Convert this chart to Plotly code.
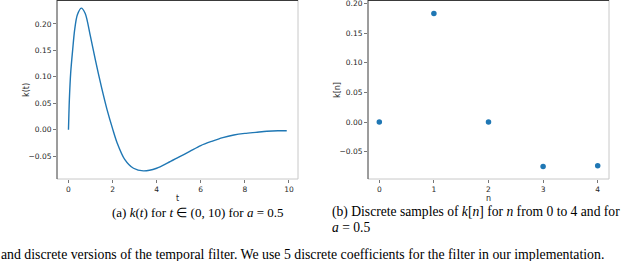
import plotly.graph_objects as go

# Continuous filter k(t)
t_vals = [0, 0.02, 0.04, 0.1, 0.19, 0.28, 0.4, 0.58, 0.76, 0.99, 1.22, 1.5, 1.75, 2.0, 2.2,
          2.55, 2.95, 3.4, 4.0, 4.5, 5.0, 5.5, 6.0, 6.5, 7.0, 7.5, 8.0, 8.5, 9.0, 9.5, 9.9]
k_vals = [0, 0.030, 0.056, 0.107, 0.151, 0.189, 0.217, 0.230, 0.220, 0.178, 0.132, 0.080,
          0.038, 0.002, -0.024, -0.056, -0.073, -0.078, -0.073, -0.063, -0.052, -0.041,
          -0.030, -0.022, -0.015, -0.010, -0.007, -0.005, -0.003, -0.002, -0.002]

# Discrete samples k[n]
n_vals = [0, 1, 2, 3, 4]
kn_vals = [0.0, 0.183, 0.0, -0.075, -0.0735]

y_ticks = [-0.05, 0.00, 0.05, 0.10, 0.15, 0.20]
t_ticks = [0, 2, 4, 6, 8, 10]
n_ticks = [0, 1, 2, 3, 4]

caption_a = "(a) <i>k</i>(<i>t</i>) for <i>t</i> ∈ (0, 10) for <i>a</i> = 0.5"
caption_b1 = "(b) Discrete samples of <i>k</i>[<i>n</i>] for <i>n</i> from 0 to 4 and for"
caption_b2 = "<i>a</i> = 0.5"
caption_main = "and discrete versions of the temporal filter. We use 5 discrete coefficients for the filter in our implementation."

W, H = 640, 261
BLUE = "#1f77b4"

def px_x(p):
    return p / W

def px_y(p):
    return 1 - p / H

fig = go.Figure()
fig.add_trace(go.Scatter(x=t_vals, y=k_vals, mode="lines",
                         line=dict(color=BLUE, width=1.4, shape="spline", smoothing=0.8),
                         xaxis="x", yaxis="y", showlegend=False))
fig.add_trace(go.Scatter(x=n_vals, y=kn_vals, mode="markers",
                         marker=dict(color=BLUE, size=5.5),
                         xaxis="x2", yaxis="y2", showlegend=False))

tickfont = dict(family="DejaVu Sans", size=7.5, color="#262626")
common_ax = dict(showgrid=False, zeroline=False, showline=False, ticks="outside",
                 ticklen=3, tickwidth=0.8, tickcolor="#555", tickfont=tickfont,
                 automargin=False, ticklabeloverflow="allow")

dom_y = [px_y(179), 1]
fig.update_layout(
    width=W, height=H, autosize=False,
    margin=dict(l=0, r=0, t=0, b=0, pad=0, autoexpand=False),
    paper_bgcolor="white", plot_bgcolor="white",
    xaxis=dict(domain=[px_x(57), px_x(298)], range=[-0.52, 10.41], tickvals=t_ticks,
               ticktext=[str(v) for v in t_ticks], anchor="y", **common_ax),
    yaxis=dict(domain=dom_y, range=[-0.0933, 0.2454], tickvals=y_ticks,
               tickformat=".2f", anchor="x", **common_ax),
    xaxis2=dict(domain=[px_x(368), px_x(609)], range=[-0.207, 4.207], tickvals=n_ticks,
                anchor="y2", **common_ax),
    yaxis2=dict(domain=dom_y, range=[-0.096, 0.2056], tickvals=y_ticks,
                tickformat=".2f", anchor="x2", **common_ax),
)

# spines: left/top dark, bottom/right light
for xr, yr in [("x domain", "y domain"), ("x2 domain", "y2 domain")]:
    fig.add_shape(type="line", xref=xr, yref=yr, x0=0, x1=1, y0=0, y1=0,
                  line=dict(color="#c8c8c8", width=1))
    fig.add_shape(type="line", xref=xr, yref=yr, x0=1, x1=1, y0=0, y1=1,
                  line=dict(color="#c8c8c8", width=1))
    fig.add_shape(type="line", xref=xr, yref=yr, x0=0, x1=0, y0=0, y1=1,
                  line=dict(color="#3a3a3a", width=1))
    fig.add_shape(type="line", xref=xr, yref=yr, x0=0, x1=1, y0=1, y1=1,
                  line=dict(color="#3a3a3a", width=2))

labfont = dict(family="DejaVu Sans", size=8, color="#262626")
anns = [
    dict(text="t", x=px_x(177.5), y=px_y(198.5), font=labfont),
    dict(text="n", x=px_x(488.5), y=px_y(198.5), font=labfont),
    dict(text="k(t)", x=px_x(26), y=px_y(90), font=labfont, textangle=-90),
    dict(text="k[n]", x=px_x(337), y=px_y(90), font=labfont, textangle=-90),
]
serif = dict(family="Liberation Serif", size=13, color="black")
serif_b = dict(family="Liberation Serif", size=13.6, color="black")
serif_main = dict(family="Liberation Serif", size=13.8, color="black")
anns += [
    dict(text=caption_a, x=px_x(197), y=px_y(212), xanchor="center", font=serif),
    dict(text=caption_b1, x=px_x(330), y=px_y(212), xanchor="left", font=serif_b),
    dict(text=caption_b2, x=px_x(330), y=px_y(227), xanchor="left", font=serif_b),
    dict(text=caption_main, x=px_x(-1), y=px_y(254), xanchor="left", font=serif_main),
]
for a in anns:
    a.setdefault("xanchor", "center")
    a.update(xref="paper", yref="paper", yanchor="middle", showarrow=False)
    fig.add_annotation(**a)

fig.write_html("out.html", config={"displayModeBar": False, "staticPlot": True},
               post_script="document.body.style.margin='0';document.body.style.padding='0';"
                           "document.documentElement.style.overflow='hidden';")
